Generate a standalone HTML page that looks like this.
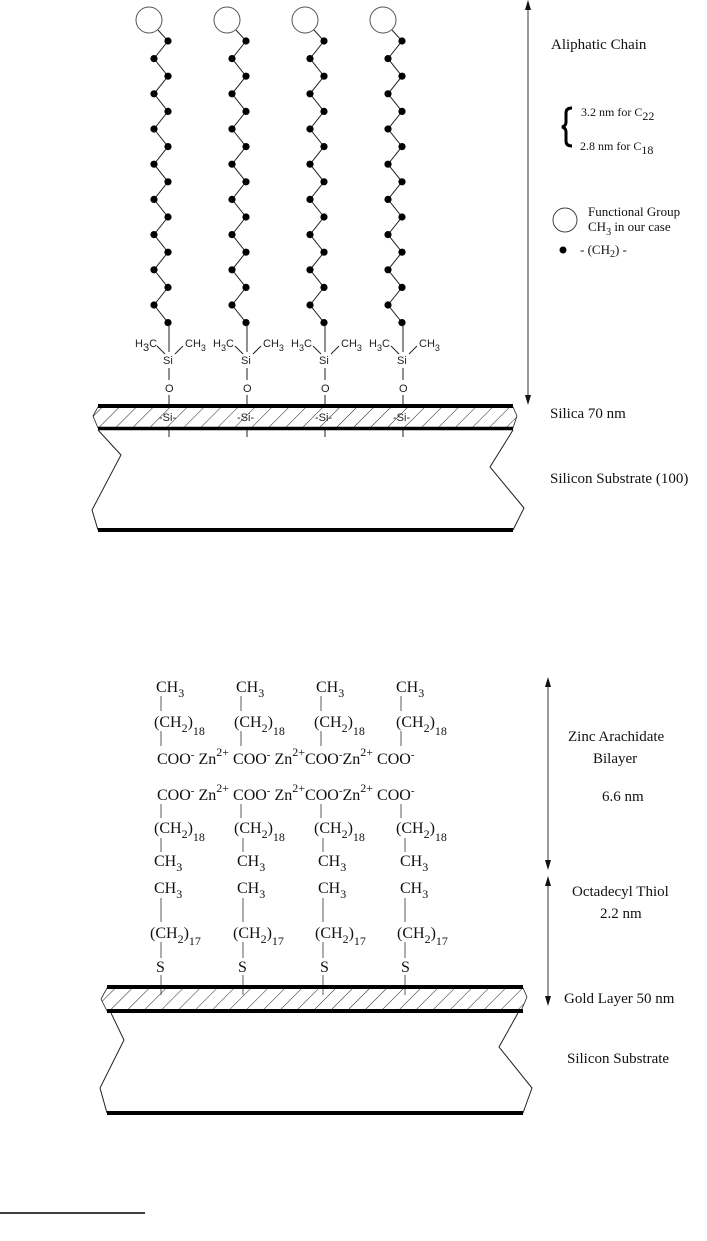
<!DOCTYPE html>
<html><head><meta charset="utf-8"><style>
html,body{margin:0;padding:0;background:#fff;width:707px;height:1241px;overflow:hidden}
svg{display:block}
.s{font-family:"Liberation Sans",sans-serif;font-size:11px;fill:#222}
.t{font-family:"Liberation Serif",serif;font-size:15px;fill:#111}
.c{font-family:"Liberation Serif",serif;font-size:16px;fill:#111}
.sub{font-size:11px}
</style></head><body>
<svg id="g" width="707" height="1241" viewBox="0 0 707 1241" xmlns="http://www.w3.org/2000/svg">
<defs>
<pattern id="h" width="12" height="12" patternUnits="userSpaceOnUse" patternTransform="rotate(45)">
<line x1="0" y1="0" x2="0" y2="12" stroke="#222" stroke-width="1"/></pattern>
</defs>
<g id="chains" stroke="#222" fill="none"></g>
<g class="s">
<text x="135" y="347">H<tspan class="sub" dy="4" font-size="9">3</tspan><tspan dy="-4">C</tspan></text><text x="185" y="347">CH<tspan dy="4" font-size="9">3</tspan></text><text x="163" y="364">Si</text><text x="165" y="392">O</text>
<text x="213" y="347">H<tspan dy="4" font-size="9">3</tspan><tspan dy="-4">C</tspan></text><text x="263" y="347">CH<tspan dy="4" font-size="9">3</tspan></text><text x="241" y="364">Si</text><text x="243" y="392">O</text>
<text x="291" y="347">H<tspan dy="4" font-size="9">3</tspan><tspan dy="-4">C</tspan></text><text x="341" y="347">CH<tspan dy="4" font-size="9">3</tspan></text><text x="319" y="364">Si</text><text x="321" y="392">O</text>
<text x="369" y="347">H<tspan dy="4" font-size="9">3</tspan><tspan dy="-4">C</tspan></text><text x="419" y="347">CH<tspan dy="4" font-size="9">3</tspan></text><text x="397" y="364">Si</text><text x="399" y="392">O</text>
<text x="159" y="421">-Si-</text><text x="237" y="421">-Si-</text><text x="315" y="421">-Si-</text><text x="393" y="421">-Si-</text>
</g>
<g stroke="#222" stroke-width="1">
<line x1="169" y1="325" x2="169" y2="352"/><line x1="247" y1="325" x2="247" y2="352"/><line x1="325" y1="325" x2="325" y2="352"/><line x1="403" y1="325" x2="403" y2="352"/>
<line x1="157" y1="346" x2="165" y2="354"/><line x1="235" y1="346" x2="243" y2="354"/><line x1="313" y1="346" x2="321" y2="354"/><line x1="391" y1="346" x2="399" y2="354"/>
<line x1="183" y1="346" x2="175" y2="354"/><line x1="261" y1="346" x2="253" y2="354"/><line x1="339" y1="346" x2="331" y2="354"/><line x1="417" y1="346" x2="409" y2="354"/>
<line x1="169" y1="368" x2="169" y2="380"/><line x1="247" y1="368" x2="247" y2="380"/><line x1="325" y1="368" x2="325" y2="380"/><line x1="403" y1="368" x2="403" y2="380"/>
<line x1="169" y1="395" x2="169" y2="405"/><line x1="247" y1="395" x2="247" y2="405"/><line x1="325" y1="395" x2="325" y2="405"/><line x1="403" y1="395" x2="403" y2="405"/>
<line x1="169" y1="430" x2="169" y2="437"/><line x1="247" y1="430" x2="247" y2="437"/><line x1="325" y1="430" x2="325" y2="437"/><line x1="403" y1="430" x2="403" y2="437"/>
</g>
<polygon points="98,407 513,407 517,416 513,428 98,428 93,416" fill="url(#h)" stroke="#222" stroke-width="0.8"/>
<line x1="98" y1="406" x2="513" y2="406" stroke="#000" stroke-width="4"/>
<line x1="98" y1="428.5" x2="513" y2="428.5" stroke="#000" stroke-width="3.5"/>
<polyline points="98,430 121,455 92,510 98,530" fill="none" stroke="#222"/>
<polyline points="513,430 490,467 524,508 513,530" fill="none" stroke="#222"/>
<line x1="98" y1="530" x2="513" y2="530" stroke="#000" stroke-width="4"/>
<line x1="528" y1="6" x2="528" y2="398" stroke="#333" stroke-width="1"/>
<polygon points="528,0 525,10 531,10" fill="#111"/><polygon points="528,405 525,395 531,395" fill="#111"/>
<g class="t">
<text x="551" y="49">Aliphatic Chain</text>
<text x="581" y="116" font-size="12">3.2 nm for C<tspan dy="4">22</tspan></text>
<text x="580" y="150" font-size="12">2.8 nm for C<tspan dy="4">18</tspan></text>
<text x="588" y="216" font-size="13">Functional Group</text>
<text x="588" y="231" font-size="13">CH<tspan dy="4" font-size="10">3</tspan><tspan dy="-4"> in our case</tspan></text>
<text x="580" y="254" font-size="13">- (CH<tspan dy="3" font-size="10">2</tspan><tspan dy="-3">) -</tspan></text>
<text x="550" y="418">Silica 70 nm</text>
<text x="550" y="483">Silicon Substrate (100)</text>
</g>
<path d="M572,108 Q566,108 566,113 L566,122 Q566,126 562,127 Q566,128 566,132 L566,141 Q566,146 572,146" fill="none" stroke="#000" stroke-width="3"/>
<circle cx="565" cy="220" r="12" fill="none" stroke="#444"/>
<circle cx="563" cy="250" r="3.5" fill="#000"/>

<g class="c">
<text x="156" y="692">CH<tspan dy="5" font-size="12">3</tspan></text><text x="236" y="692">CH<tspan dy="5" font-size="12">3</tspan></text><text x="316" y="692">CH<tspan dy="5" font-size="12">3</tspan></text><text x="396" y="692">CH<tspan dy="5" font-size="12">3</tspan></text>
<text x="154" y="727">(CH<tspan dy="5" font-size="12">2</tspan><tspan dy="-5">)</tspan><tspan dy="8" font-size="12">18</tspan></text>
<text x="234" y="727">(CH<tspan dy="5" font-size="12">2</tspan><tspan dy="-5">)</tspan><tspan dy="8" font-size="12">18</tspan></text>
<text x="314" y="727">(CH<tspan dy="5" font-size="12">2</tspan><tspan dy="-5">)</tspan><tspan dy="8" font-size="12">18</tspan></text>
<text x="396" y="727">(CH<tspan dy="5" font-size="12">2</tspan><tspan dy="-5">)</tspan><tspan dy="8" font-size="12">18</tspan></text>
<text x="157" y="764">COO<tspan dy="-6" font-size="11">-</tspan><tspan dy="6"> Zn</tspan><tspan dy="-8" font-size="12">2+</tspan><tspan dy="8"> COO</tspan><tspan dy="-6" font-size="11">-</tspan><tspan dy="6"> Zn</tspan><tspan dy="-8" font-size="12">2+</tspan><tspan dy="8">COO</tspan><tspan dy="-6" font-size="11">-</tspan><tspan dy="6">Zn</tspan><tspan dy="-8" font-size="12">2+</tspan><tspan dy="8"> COO</tspan><tspan dy="-6" font-size="11">-</tspan></text>
<text x="157" y="800">COO<tspan dy="-6" font-size="11">-</tspan><tspan dy="6"> Zn</tspan><tspan dy="-8" font-size="12">2+</tspan><tspan dy="8"> COO</tspan><tspan dy="-6" font-size="11">-</tspan><tspan dy="6"> Zn</tspan><tspan dy="-8" font-size="12">2+</tspan><tspan dy="8">COO</tspan><tspan dy="-6" font-size="11">-</tspan><tspan dy="6">Zn</tspan><tspan dy="-8" font-size="12">2+</tspan><tspan dy="8"> COO</tspan><tspan dy="-6" font-size="11">-</tspan></text>
<text x="154" y="833">(CH<tspan dy="5" font-size="12">2</tspan><tspan dy="-5">)</tspan><tspan dy="8" font-size="12">18</tspan></text>
<text x="234" y="833">(CH<tspan dy="5" font-size="12">2</tspan><tspan dy="-5">)</tspan><tspan dy="8" font-size="12">18</tspan></text>
<text x="314" y="833">(CH<tspan dy="5" font-size="12">2</tspan><tspan dy="-5">)</tspan><tspan dy="8" font-size="12">18</tspan></text>
<text x="396" y="833">(CH<tspan dy="5" font-size="12">2</tspan><tspan dy="-5">)</tspan><tspan dy="8" font-size="12">18</tspan></text>
<text x="154" y="866">CH<tspan dy="5" font-size="12">3</tspan></text><text x="237" y="866">CH<tspan dy="5" font-size="12">3</tspan></text><text x="318" y="866">CH<tspan dy="5" font-size="12">3</tspan></text><text x="400" y="866">CH<tspan dy="5" font-size="12">3</tspan></text>
<text x="154" y="893">CH<tspan dy="5" font-size="12">3</tspan></text><text x="237" y="893">CH<tspan dy="5" font-size="12">3</tspan></text><text x="318" y="893">CH<tspan dy="5" font-size="12">3</tspan></text><text x="400" y="893">CH<tspan dy="5" font-size="12">3</tspan></text>
<text x="150" y="938">(CH<tspan dy="5" font-size="12">2</tspan><tspan dy="-5">)</tspan><tspan dy="7" font-size="12">17</tspan></text>
<text x="233" y="938">(CH<tspan dy="5" font-size="12">2</tspan><tspan dy="-5">)</tspan><tspan dy="7" font-size="12">17</tspan></text>
<text x="315" y="938">(CH<tspan dy="5" font-size="12">2</tspan><tspan dy="-5">)</tspan><tspan dy="7" font-size="12">17</tspan></text>
<text x="397" y="938">(CH<tspan dy="5" font-size="12">2</tspan><tspan dy="-5">)</tspan><tspan dy="7" font-size="12">17</tspan></text>
<text x="156" y="972">S</text><text x="238" y="972">S</text><text x="320" y="972">S</text><text x="401" y="972">S</text>
</g>
<g stroke="#333" stroke-width="0.8">
<line x1="161" y1="696" x2="161" y2="711"/><line x1="241" y1="696" x2="241" y2="711"/><line x1="321" y1="696" x2="321" y2="711"/><line x1="401" y1="696" x2="401" y2="711"/>
<line x1="161" y1="731" x2="161" y2="746"/><line x1="241" y1="731" x2="241" y2="746"/><line x1="321" y1="731" x2="321" y2="746"/><line x1="401" y1="731" x2="401" y2="746"/>
<line x1="161" y1="804" x2="161" y2="818"/><line x1="241" y1="804" x2="241" y2="818"/><line x1="321" y1="804" x2="321" y2="818"/><line x1="401" y1="804" x2="401" y2="818"/>
<line x1="161" y1="838" x2="161" y2="852"/><line x1="243" y1="838" x2="243" y2="852"/><line x1="323" y1="838" x2="323" y2="852"/><line x1="405" y1="838" x2="405" y2="852"/>
<line x1="161" y1="898" x2="161" y2="922"/><line x1="243" y1="898" x2="243" y2="922"/><line x1="323" y1="898" x2="323" y2="922"/><line x1="405" y1="898" x2="405" y2="922"/>
<line x1="161" y1="942" x2="161" y2="958"/><line x1="243" y1="942" x2="243" y2="958"/><line x1="323" y1="942" x2="323" y2="958"/><line x1="405" y1="942" x2="405" y2="958"/>
<line x1="161" y1="975" x2="161" y2="995"/><line x1="243" y1="975" x2="243" y2="995"/><line x1="323" y1="975" x2="323" y2="995"/><line x1="405" y1="975" x2="405" y2="995"/>
</g>
<polygon points="107,988 523,988 527,997 521,1011 107,1011 101,999" fill="url(#h)" stroke="#222" stroke-width="0.8"/>
<line x1="107" y1="987" x2="523" y2="987" stroke="#000" stroke-width="4"/>
<line x1="107" y1="1011" x2="523" y2="1011" stroke="#000" stroke-width="4"/>
<polyline points="111,1013 124,1040 100,1088 107,1113" fill="none" stroke="#222"/>
<polyline points="518,1013 499,1047 532,1088 523,1113" fill="none" stroke="#222"/>
<line x1="107" y1="1113" x2="523" y2="1113" stroke="#000" stroke-width="4"/>
<line x1="548" y1="684" x2="548" y2="864" stroke="#333"/>
<polygon points="548,677 545,687 551,687" fill="#111"/><polygon points="548,870 545,860 551,860" fill="#111"/>
<line x1="548" y1="882" x2="548" y2="1000" stroke="#333"/>
<polygon points="548,876 545,886 551,886" fill="#111"/><polygon points="548,1006 545,996 551,996" fill="#111"/>
<g class="t" font-size="15">
<text x="568" y="741">Zinc Arachidate</text>
<text x="593" y="763">Bilayer</text>
<text x="602" y="801">6.6 nm</text>
<text x="572" y="896">Octadecyl Thiol</text>
<text x="600" y="918">2.2 nm</text>
<text x="564" y="1003">Gold Layer 50 nm</text>
<text x="567" y="1063">Silicon Substrate</text>
</g>
<line x1="0" y1="1213" x2="145" y2="1213" stroke="#000" stroke-width="1.5"/>
</svg>
<script>
var g=document.getElementById('chains'),ns='http://www.w3.org/2000/svg';
[149,227,305,383].forEach(function(cx){
 var c=document.createElementNS(ns,'circle');c.setAttribute('cx',cx);c.setAttribute('cy',20);c.setAttribute('r',13);c.setAttribute('stroke','#555');g.appendChild(c);
 var pts=[[cx+9,30]];
 for(var i=0;i<17;i++){var y=41+i*17.6,x=(i%2==0)?cx+19:cx+5;pts.push([x,y]);}
 var p=document.createElementNS(ns,'polyline');p.setAttribute('points',pts.map(function(a){return a.join(',')}).join(' '));g.appendChild(p);
 for(var i=1;i<pts.length;i++){var d=document.createElementNS(ns,'circle');d.setAttribute('cx',pts[i][0]);d.setAttribute('cy',pts[i][1]);d.setAttribute('r',3.6);d.setAttribute('fill','#000');d.setAttribute('stroke','none');g.appendChild(d);}
});
</script>
</body></html>
